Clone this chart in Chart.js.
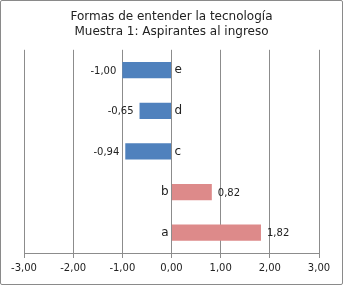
<!doctype html>
<html lang="es">
<head>
  <meta charset="utf-8">
  <title>Formas de entender la tecnología</title>
  <style>
    * { margin: 0; padding: 0; }
    body { background: white; }
    .chartBox {
      width: 343px;
      height: 285px;
      border: solid 1px #8a8a8a;
      border-radius: 2px;
      box-sizing: border-box;
      background: white;
      position: relative;
    }
  </style>
</head>
<body>
<div class="chartBox">
  <canvas id="myChart"></canvas>
</div>

<script src="https://cdn.jsdelivr.net/npm/chart.js"></script>
<script>
  // categories top to bottom
  const categorias = ['e', 'd', 'c', 'b', 'a'];
  const valores = [-1.00, -0.65, -0.94, 0.82, 1.82];
  const ticksX = [-3, -2, -1, 0, 1, 2, 3];

  const azul = '#4f81bd';
  const rosa = '#dd8a8a';
  const fuente = '"DejaVu Sans", Verdana, sans-serif';

  const fmt = v => v.toFixed(2).replace('.', ',');

  // draws the value at the bar end and the letter next to the zero line
  const etiquetas = {
    id: 'etiquetas',
    afterDatasetsDraw(chart) {
      const ctx = chart.ctx;
      const meta = chart.getDatasetMeta(0);
      const x0 = chart.scales.x.getPixelForValue(0);
      ctx.save();
      ctx.fillStyle = '#222';
      ctx.textBaseline = 'middle';
      meta.data.forEach((bar, i) => {
        const v = valores[i];
        ctx.font = '10px ' + fuente;
        if (v < 0) {
          ctx.textAlign = 'right';
          ctx.fillText(fmt(v), bar.x - 6, bar.y + 1);
        } else {
          ctx.textAlign = 'left';
          ctx.fillText(fmt(v), bar.x + 6, bar.y + 1);
        }
        ctx.font = '12px ' + fuente;
        if (v < 0) {
          ctx.textAlign = 'left';
          ctx.fillText(categorias[i], x0 + 3, bar.y);
        } else {
          ctx.textAlign = 'right';
          ctx.fillText(categorias[i], x0 - 3, bar.y);
        }
      });
      ctx.restore();
    }
  };

  new Chart(document.getElementById('myChart'), {
    type: 'bar',
    data: {
      labels: categorias,
      datasets: [{
        data: valores,
        backgroundColor: valores.map(v => v < 0 ? azul : rosa),
        borderWidth: 0,
        categoryPercentage: 0.8,
        barPercentage: 0.5
      }]
    },
    options: {
      indexAxis: 'y',
      responsive: true,
      maintainAspectRatio: false,
      animation: false,
      layout: { padding: { left: 23, right: 23, top: 0, bottom: 6 } },
      scales: {
        x: {
          min: -3,
          max: 3,
          afterBuildTicks: axis => { axis.ticks = ticksX.map(v => ({ value: v })); },
          ticks: {
            color: '#222',
            font: { family: fuente, size: 10 },
            padding: 4,
            maxRotation: 0,
            callback: v => fmt(v)
          },
          grid: { color: '#8c8c8c', lineWidth: 1, tickLength: 5 },
          border: { color: '#8c8c8c' }
        },
        y: {
          display: false
        }
      },
      plugins: {
        legend: { display: false },
        tooltip: { enabled: false },
        title: {
          display: true,
          text: ['Formas de entender la tecnología', 'Muestra 1: Aspirantes al ingreso'],
          color: '#222',
          font: { family: fuente, size: 12, weight: 'normal', lineHeight: 1.2 },
          padding: { top: 9, bottom: 11 }
        }
      }
    },
    plugins: [etiquetas]
  });
</script>
</body>
</html>
